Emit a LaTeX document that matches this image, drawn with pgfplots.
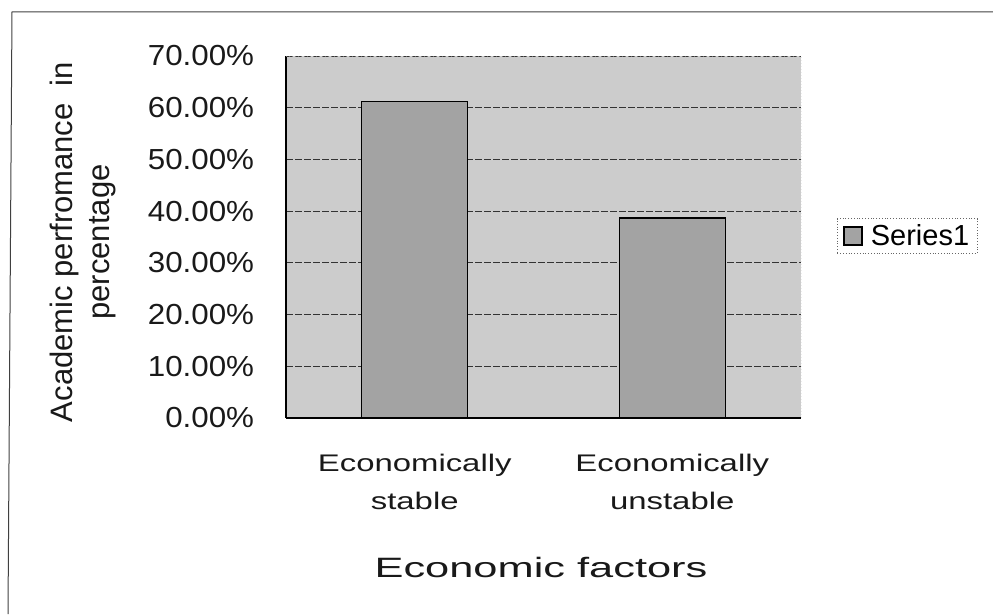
\documentclass[border=0pt]{standalone}
\usepackage{pgfplots}
\pgfplotsset{compat=1.18}
\usepackage{fontspec}
\setmainfont{Liberation Sans}
\definecolor{bgfill}{gray}{0.80}
\definecolor{barfill}{gray}{0.64}
\begin{document}
\begin{tikzpicture}[x=1pt,y=1pt]
\useasboundingbox (0,0) rectangle (993,614);
\draw[black!75, line width=1pt] (8,0) -- (12,602) -- (993,602);
\begin{axis}[
  at={(286pt,196pt)}, anchor=south west,
  scale only axis, width=515pt, height=362pt,
  ymin=0, ymax=70, ytick={0,10,...,70},
  xmin=-0.5, xmax=1.5, xtick={0,1},
  xticklabels={Economically\\stable, Economically\\unstable},
  xticklabel style={align=center, font=\fontsize{24}{38}\selectfont, xscale=1.37, yshift=-33pt, text=black!90},
  yticklabel={\pgfmathprintnumber[fixed, fixed zerofill, precision=2]{\tick}\%},
  yticklabel style={font=\fontsize{29}{30}\selectfont, xscale=1.08, xshift=-26pt, text=black!90},
  /pgf/number format/assume math mode=true,
  major tick length=0pt,
  axis background/.style={fill=bgfill},
  axis x line*=bottom, axis y line*=left,
  axis line style={black, line width=1.2pt, -},
  ymajorgrids, grid style={black!80, line width=0.8pt, dash pattern=on 7pt off 2pt},
  legend style={at={(1.070,0.503)}, anchor=west, draw=black!60, dotted, line width=0.8pt,
    font=\fontsize{29}{30}\selectfont, fill=none, inner xsep=6pt, inner ysep=4pt},
  legend cell align=left,
  legend image code/.code={\draw[#1, solid] (0pt,-9pt) rectangle (18pt,9pt); \path (24pt,0pt);},
]
\draw[black!55, dotted, line width=1pt] (rel axis cs:0,1) -- (rel axis cs:1,1) -- (rel axis cs:1,0);
\addplot[ybar, bar width=106pt, fill=barfill, draw=black, line width=1.4pt, solid]
  coordinates {(0,61.2) (1,38.7)};
\addlegendentry{Series1}
\end{axis}
\node[rotate=90, align=center, font=\fontsize{31}{37}\selectfont, text=black!90] at (83,372) {Academic perfromance\ \ in\\percentage};
\node[font=\fontsize{28}{28}\selectfont, xscale=1.55, text=black!90] at (541,47) {Economic factors};
\end{tikzpicture}
\end{document}
